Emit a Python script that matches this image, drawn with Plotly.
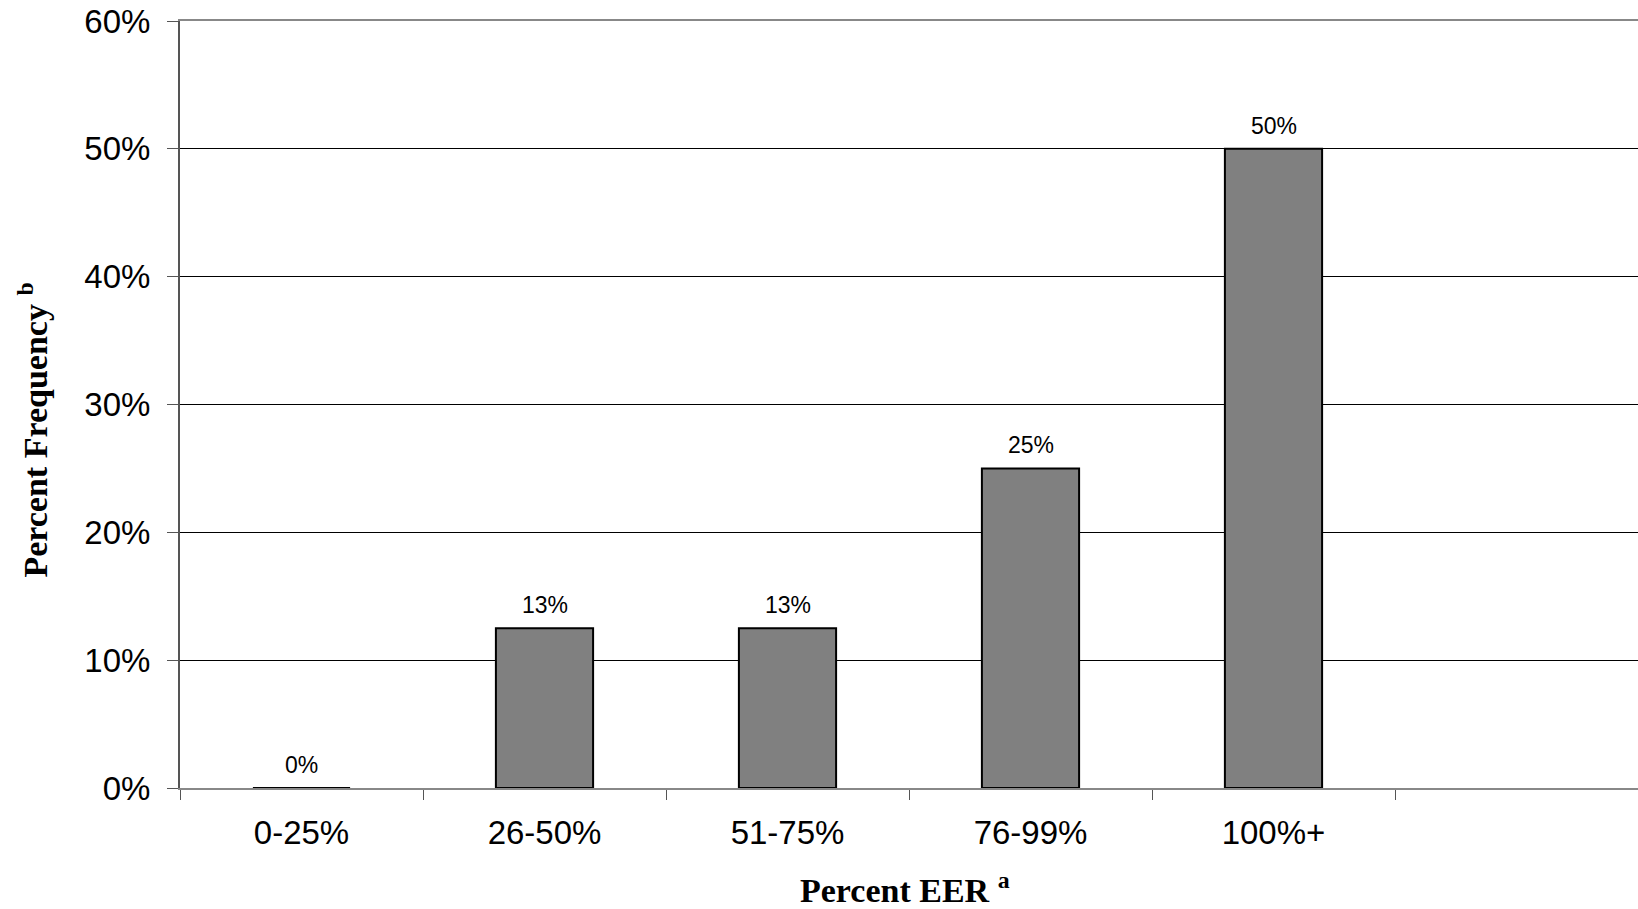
import plotly.graph_objects as go

categories = ["0-25%", "26-50%", "51-75%", "76-99%", "100%+"]
extra_slot = [" "]
values = [0, 12.5, 12.5, 25, 50]
value_labels = ["0%", "13%", "13%", "25%", "50%"]
y_ticks = [0, 10, 20, 30, 40, 50, 60]
y_ticklabels = ["0%", "10%", "20%", "30%", "40%", "50%", "60%"]

fig = go.Figure()
fig.add_trace(go.Bar(
    x=categories, y=values, width=0.4,
    marker=dict(color="#808080", line=dict(color="#000000", width=2)),
    showlegend=False, hoverinfo="skip",
))

for c, v, t in zip(categories, values, value_labels):
    fig.add_annotation(x=c, y=v, text=t, showarrow=False, yanchor="bottom",
                       yshift=8, font=dict(family="Liberation Sans, Arial", size=23, color="#000"))

fig.add_annotation(xref="paper", yref="paper", x=0.497, y=-0.13, yanchor="middle",
                   text="<b>Percent EER <sup>a</sup></b>", showarrow=False,
                   font=dict(family="Liberation Serif, Times New Roman", size=34, color="#000"))
fig.add_annotation(xref="paper", yref="paper", x=-0.101, y=0.467, xanchor="center", yanchor="middle",
                   textangle=-90, text="<b>Percent Frequency <sup>b</sup></b>", showarrow=False,
                   font=dict(family="Liberation Serif, Times New Roman", size=34, color="#000"))

fig.update_layout(
    width=1638, height=909,
    margin=dict(l=180, r=0, t=21, b=121),
    plot_bgcolor="white", paper_bgcolor="white",
    xaxis=dict(
        type="category", categoryorder="array", categoryarray=categories + extra_slot,
        range=[-0.5, 5.5], tickson="boundaries", ticks="outside", ticklen=10,
        tickcolor="#555", tickwidth=1,
        showline=True, linecolor="#888", linewidth=2, mirror=True,
        showgrid=False, ticklabelstandoff=14,
        tickfont=dict(family="Liberation Sans, Arial", size=33, color="#000"),
    ),
    yaxis=dict(
        range=[0, 60], tickvals=y_ticks, ticktext=y_ticklabels,
        ticks="outside", ticklen=11, tickcolor="#555", tickwidth=1,
        showline=True, linecolor="#555", linewidth=2,
        showgrid=True, gridcolor="#000", gridwidth=1, zeroline=False,
        ticklabelstandoff=10,
        tickfont=dict(family="Liberation Sans, Arial", size=33, color="#000"),
    ),
)

fig.write_html("out.html", config={"displayModeBar": False},
               post_script="document.body.style.margin='0';")
